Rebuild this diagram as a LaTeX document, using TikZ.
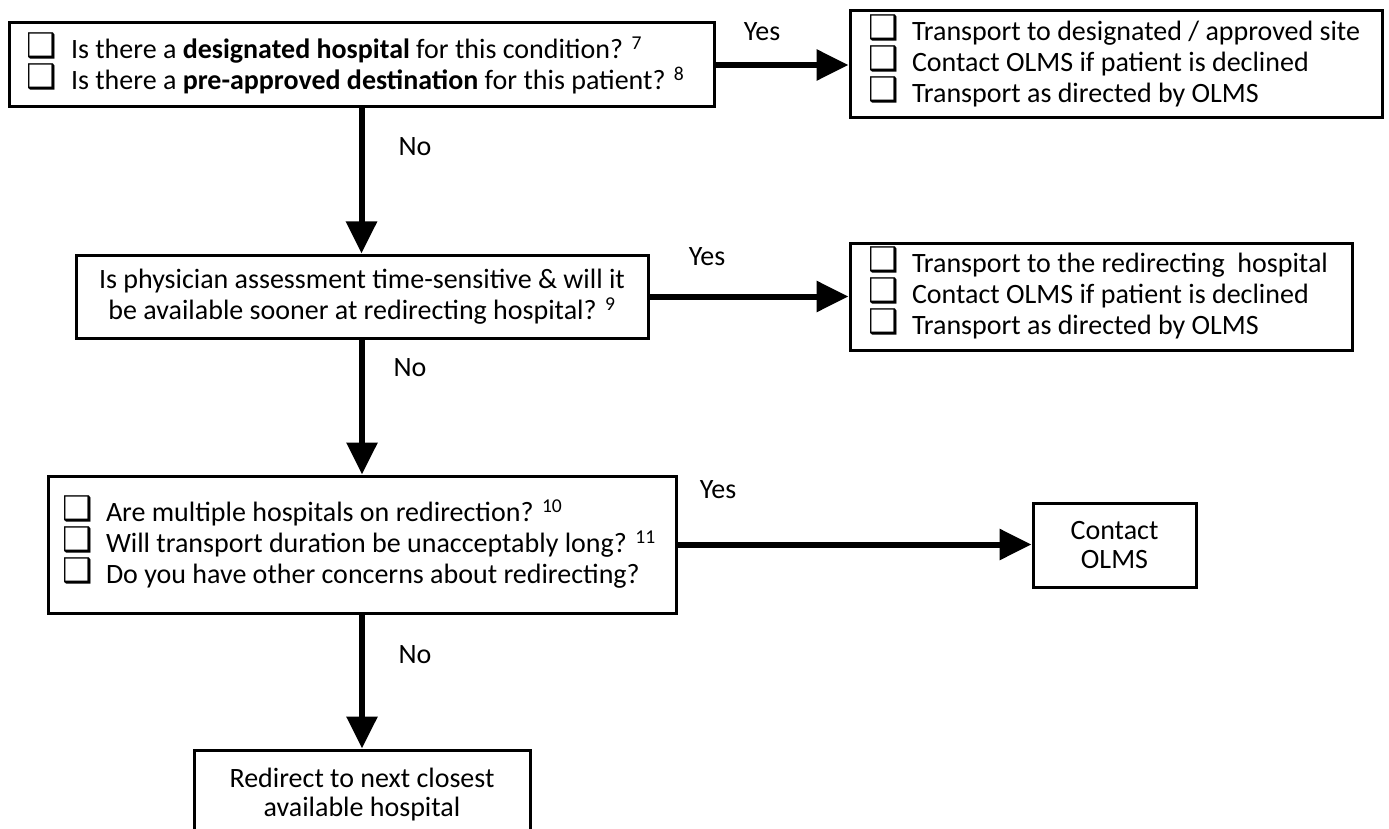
\documentclass[tikz,border=0pt]{standalone}
\usepackage{fontspec}
\setmainfont{Carlito}
\newfontfamily\boxfont{DejaVu Sans}
\usetikzlibrary{arrows.meta}

\newcommand{\chk}{\makebox[44pt][l]{\smash{\raisebox{1pt}{\boxfont\fontsize{34}{34}\selectfont ❑}}}}

\tikzset{
  box/.style={draw, line width=3pt, inner ysep=0pt, inner xsep=18pt, align=flush left},
  cbox/.style={draw, line width=3pt, inner sep=0pt, align=center},
  flow/.style={line width=6pt, -{Triangle[length=32pt,width=30pt]}},
  lbl/.style={inner sep=0pt},
}

\begin{document}
\begin{tikzpicture}[x=1pt, y=-1pt, font=\fontsize{28}{31}\selectfont]
\useasboundingbox (0,0) rectangle (1389,829);
\clip (0,0) rectangle (1389,829);

\node[box, text width=669pt, minimum height=84pt] (1) at (361.5,65)
  {\chk Is there a \textbf{designated hospital} for this condition? \textsuperscript{7}\\
   \chk Is there a \textbf{pre-approved destination} for this patient? \textsuperscript{8}};
\node[box, text width=496pt, minimum height=107pt] (2) at (1116,64.5)
  {\chk Transport to designated / approved site\\
   \chk Contact OLMS if patient is declined\\
   \chk Transport as directed by OLMS};
\node[cbox, minimum width=572pt, minimum height=83pt] (3) at (362,296.5)
  {Is physician assessment time-sensitive \& will it\\
   be available sooner at redirecting hospital? \textsuperscript{9}};
\node[box, text width=466pt, minimum height=107pt] (4) at (1101,296.5)
  {\chk Transport to the redirecting~ hospital\\
   \chk Contact OLMS if patient is declined\\
   \chk Transport as directed by OLMS};
\node[box, inner xsep=14pt, text width=600pt, minimum height=137pt] (5) at (362,544.5)
  {\chk Are multiple hospitals on redirection? \textsuperscript{10}\\
   \chk Will transport duration be unacceptably long? \textsuperscript{11}\\
   \chk Do you have other concerns about redirecting?};
\node[cbox, minimum width=163pt, minimum height=84pt, font=\fontsize{28}{29}\selectfont] (6) at (1114.5,545)
  {Contact\\ OLMS};
\node[cbox, minimum width=336pt, minimum height=90pt, font=\fontsize{28}{29}\selectfont] (7) at (362,795)
  {Redirect to next closest\\ available hospital};

% yes / no labels
\node[lbl] (y1) at (762,32) {Yes};
\node[lbl] (y2) at (707,257) {Yes};
\node[lbl] (y3) at (718,490) {Yes};
\node[lbl] (n1) at (415,147) {No};
\node[lbl] (n2) at (410,368) {No};
\node[lbl] (n3) at (415,655) {No};

\draw[flow] (1.east) -- (1.east -| 2.west);
\draw[flow] (3.east) -- (3.east -| 4.west);
\draw[flow] (5.east) -- (5.east -| 6.west);
\draw[flow] (1.south) -- (1.south |- 3.north);
\draw[flow] (3.south) -- (3.south |- 5.north);
\draw[flow] (5.south) -- (5.south |- 7.north);
\end{tikzpicture}
\end{document}
